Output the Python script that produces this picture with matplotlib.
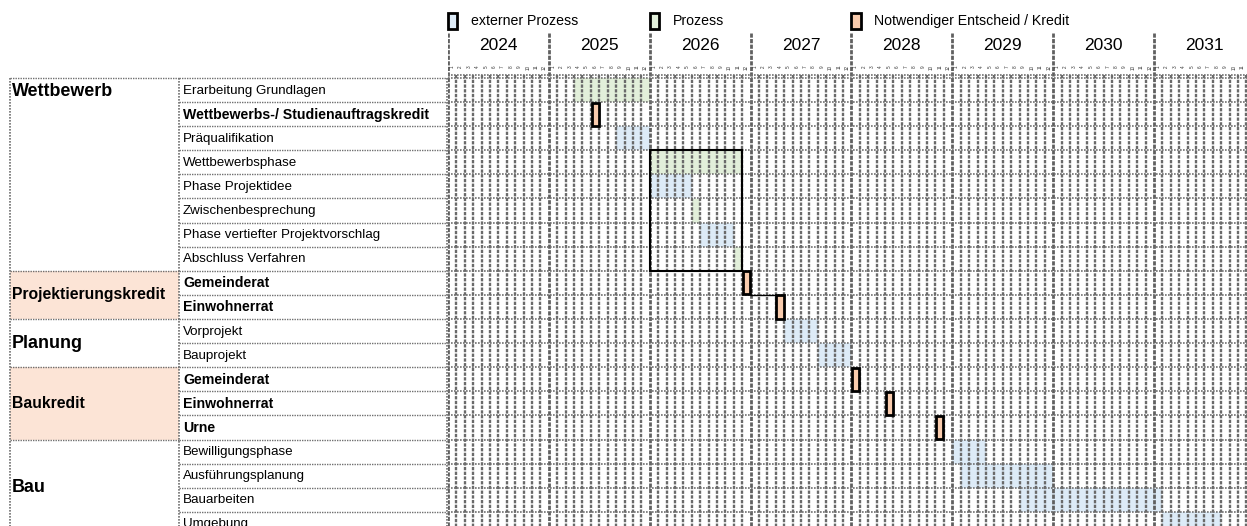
import matplotlib.pyplot as plt
from matplotlib.patches import Rectangle

plt.rcParams['font.family'] = ['Liberation Sans', 'DejaVu Sans']

years = [2024, 2025, 2026, 2027, 2028, 2029, 2030, 2031]
month_labels = [str(m) for m in range(1, 13)]

groups = ['Wettbewerb', 'Projektierungskredit', 'Planung', 'Baukredit', 'Bau']
group_rows = [8, 2, 2, 3, 4]
group_shaded = [False, True, False, True, False]
group_big = [True, False, True, False, True]

tasks = ['Erarbeitung Grundlagen', 'Wettbewerbs-/ Studienauftragskredit', 'Präqualifikation',
         'Wettbewerbsphase', 'Phase Projektidee', 'Zwischenbesprechung',
         'Phase vertiefter Projektvorschlag', 'Abschluss Verfahren',
         'Gemeinderat', 'Einwohnerrat', 'Vorprojekt', 'Bauprojekt',
         'Gemeinderat', 'Einwohnerrat', 'Urne',
         'Bewilligungsphase', 'Ausführungsplanung', 'Bauarbeiten', 'Umgebung']
# e = externer Prozess, p = Prozess, k = Entscheid / Kredit
task_type = ['p', 'k', 'e', 'p', 'e', 'p', 'e', 'p', 'k', 'k',
             'e', 'e', 'k', 'k', 'k', 'e', 'e', 'e', 'e']
# Start in Monaten ab Januar 2024, Dauer in Monaten
task_start = [15, 17, 20, 24, 24, 29, 30, 34, 35, 39, 40, 44, 48, 52, 58, 60, 61, 68, 85]
task_len = [9, 1, 4, 11, 5, 1, 4, 1, 1, 1, 4, 4, 1, 1, 1, 4, 11, 17, 7]

legend_types = ['e', 'p', 'k']
legend_labels = ['externer Prozess', 'Prozess', 'Notwendiger Entscheid / Kredit']

colors = {'e': '#DDEBF7', 'p': '#E2EFDA', 'k': '#F8CBAD'}
peach = '#FCE4D6'
grid_c = '#707070'
dot = (0, (1.0, 0.8))

W, H = 1247, 526
x0, mw = 448, 8.405   # px: Beginn 2024, Breite eines Monats
y0, rh = 78, 24.1     # px: Oberkante erste Zeile, Zeilenhöhe
nrows = len(tasks)
nmonths = 12 * len(years)

fig = plt.figure(figsize=(W / 100, H / 100), dpi=100)
ylim = ((H - y0) / rh, -y0 / rh)

# ---------- linke Tabelle ----------
tab = fig.add_axes([0, 0, x0 / W, 1])
tab.set_xlim(0, x0)
tab.set_ylim(*ylim)
tab.axis('off')
cx0, cx1, cx2 = 10, 179, 447

r = 0
for g, n, sh, big in zip(groups, group_rows, group_shaded, group_big):
    if sh:
        tab.add_patch(Rectangle((cx0, r), cx1 - cx0, n, facecolor=peach, edgecolor='none', zorder=0))
    if g == 'Wettbewerb':
        tab.text(cx0 + 2, r + 0.58, g, fontsize=12.9, fontweight='bold', va='center', ha='left')
    else:
        tab.text(cx0 + 2, r + n / 2, g, fontsize=12.9 if big else 11.3,
                 fontweight='bold', va='center', ha='left')
    tab.plot([cx0, cx1], [r, r], color=grid_c, lw=1, ls=dot, zorder=2)
    r += n
tab.plot([cx0, cx1], [r, r], color=grid_c, lw=1, ls=dot, zorder=2)

for i, t in enumerate(tasks):
    bold = task_type[i] == 'k'
    tab.text(cx1 + 4, i + 0.52, t, fontsize=10.2 if bold else 9.6, va='center', ha='left',
             fontweight='bold' if bold else 'normal')
for i in range(nrows + 1):
    tab.plot([cx1, cx2], [i, i], color=grid_c, lw=1, ls=dot, zorder=2)
for xv in [cx0, cx1, cx2]:
    tab.plot([xv, xv], [0, nrows], color=grid_c, lw=1.2, ls=dot, zorder=2)

# ---------- Gantt ----------
ax = fig.add_axes([x0 / W, 0, 1 - x0 / W, 1])
ax.set_xlim(0, (W - x0) / mw)
ax.set_ylim(*ylim)
ax.axis('off')

for i in range(nrows):
    c = colors[task_type[i]]
    if task_type[i] == 'k':
        ax.add_patch(Rectangle((task_start[i] + 0.08, i + 0.02), task_len[i] - 0.16, 0.96,
                               facecolor=c, edgecolor='black', lw=2, zorder=4))
    else:
        ax.add_patch(Rectangle((task_start[i], i), task_len[i], 1,
                               facecolor=c, edgecolor='none', zorder=1))

# Gitter
for m in range(nmonths + 1):
    if m % 12 == 0:
        ax.plot([m, m], [-1.87, nrows], color='#606060', lw=2.0, ls=(0, (1.5, 0.5)), zorder=2)
    else:
        ax.plot([m, m], [-0.12, nrows], color='#6a6a6a', lw=1.7, ls=(0, (1.4, 0.6)), zorder=2)
for i in range(nrows + 1):
    ax.plot([0, nmonths], [i, i], color=grid_c, lw=1.2, ls=dot, zorder=2)
ax.plot([0, nmonths], [-0.12, -0.12], color=grid_c, lw=1.2, ls=dot, zorder=2)

# Kopfzeile
for k, y in enumerate(years):
    ax.text(12 * k + 6, -1.33, str(y), fontsize=12.5, ha='center', va='center')
    for j, ml in enumerate(month_labels):
        ax.text(12 * k + j + 0.5, -0.45, ml, fontsize=3.3, rotation=90,
                ha='center', va='center', color='#333333')

# Legende
for k, (lt, ll) in enumerate(zip(legend_types, legend_labels)):
    mx = 24 * k
    ax.add_patch(Rectangle((mx, -2.70), 1.1, 0.66, facecolor=colors[lt],
                           edgecolor='black', lw=2, clip_on=False, zorder=4))
    ax.text(mx + 2.7, -2.37, ll, fontsize=10.2, ha='left', va='center')

# Rahmen Wettbewerbsverfahren (Zeilen 4-8)
ws = tasks.index('Wettbewerbsphase')
ax.add_patch(Rectangle((task_start[ws], ws), task_len[ws], 5, facecolor='none',
                       edgecolor='black', lw=1.5, zorder=5))

# Verbindung Gemeinderat -> Einwohnerrat
ax.plot([task_start[8] + task_len[8], task_start[9]], [9, 9], color='black', lw=1, zorder=5)

fig.savefig('out.png', dpi=100)
